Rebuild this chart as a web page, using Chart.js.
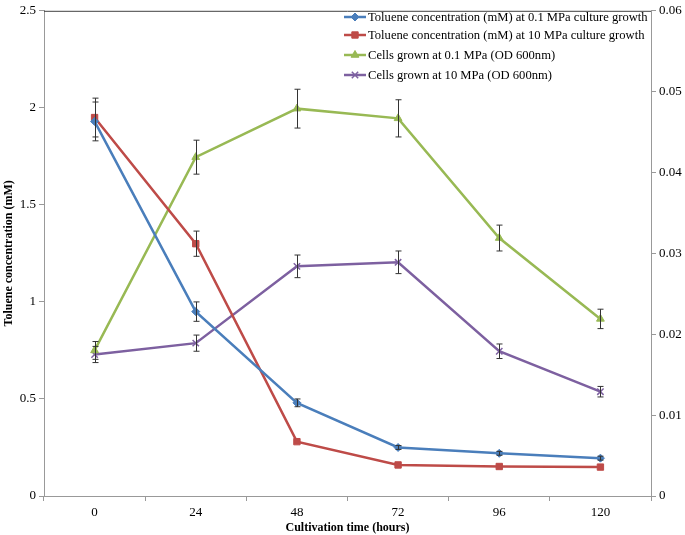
<html>
<head>
  <script src="https://cdn.jsdelivr.net/npm/chart.js@4.4.0/dist/chart.umd.min.js"></script>
</head>

<body style="padding: 0; margin: 0; background: #fff;">

<div style="width: 685px; height: 535px;">
  <canvas id="chart" width="685" height="535"></canvas>
</div>

<script>
  const hours = ['0', '24', '48', '72', '96', '120']

  const toluene01 = [1.93, 0.95, 0.48, 0.25, 0.22, 0.195]
  const toluene01Err = [0.1, 0.05, 0.02, 0.01, 0.01, 0.01]
  const toluene10 = [1.95, 1.30, 0.28, 0.16, 0.152, 0.149]
  const toluene10Err = [0.1, 0.065, 0, 0, 0, 0]
  const cells01 = [0.018, 0.0419, 0.0479, 0.0467, 0.0319, 0.0219]
  const cells01Err = [0.0011, 0.0021, 0.0024, 0.0023, 0.0016, 0.0012]
  const cells10 = [0.0175, 0.0189, 0.0284, 0.0289, 0.0179, 0.0129]
  const cells10Err = [0.001, 0.001, 0.0014, 0.0014, 0.0009, 0.00065]

  const font = 'Liberation Serif'

  const series = [
    {label: 'Toluene concentration (mM) at 0.1 MPa culture growth', data: toluene01, err: toluene01Err, axis: 'y',  color: '#4A7EBB', marker: 'rectRot',  radius: 4},
    {label: 'Toluene concentration (mM) at 10 MPa culture growth',  data: toluene10, err: toluene10Err, axis: 'y',  color: '#BE4B48', marker: 'rect',     radius: 4.5},
    {label: 'Cells grown at 0.1 MPa (OD 600nm)',                    data: cells01,   err: cells01Err,   axis: 'y2', color: '#98B954', marker: 'triangle', radius: 4.5},
    {label: 'Cells grown at 10 MPa (OD 600nm)',                     data: cells10,   err: cells10Err,   axis: 'y2', color: '#7D60A0', marker: 'crossRot', radius: 4.5},
  ]

  // error bars, top border line and the in-plot legend
  const extras = {
    id: 'extras',
    afterDatasetsDraw(chart) {
      const ctx = chart.ctx
      const x = chart.scales.x
      ctx.save()
      ctx.strokeStyle = '#333'
      ctx.lineWidth = 1
      series.forEach(s => {
        const y = chart.scales[s.axis]
        s.data.forEach((v, i) => {
          if (!s.err[i]) return
          const px = Math.round(x.getPixelForValue(i)) + 0.5
          const top = y.getPixelForValue(v + s.err[i])
          const bot = y.getPixelForValue(v - s.err[i])
          ctx.beginPath()
          ctx.moveTo(px, top); ctx.lineTo(px, bot)
          ctx.moveTo(px - 3, top); ctx.lineTo(px + 3, top)
          ctx.moveTo(px - 3, bot); ctx.lineTo(px + 3, bot)
          ctx.stroke()
        })
      })
      ctx.restore()
    },
    afterDraw(chart) {
      const ctx = chart.ctx
      const area = chart.chartArea
      ctx.save()
      ctx.strokeStyle = '#404040'
      ctx.lineWidth = 1
      ctx.beginPath()
      ctx.moveTo(area.left, area.top + 0.5)
      ctx.lineTo(area.right, area.top + 0.5)
      ctx.stroke()

      ctx.font = '12.6px "' + font + '"'
      ctx.textBaseline = 'middle'
      const rows = [17, 35, 55, 75]
      series.forEach((s, i) => {
        const ly = rows[i]
        ctx.strokeStyle = s.color
        ctx.fillStyle = s.color
        ctx.lineWidth = 2.5
        ctx.beginPath()
        ctx.moveTo(344, ly); ctx.lineTo(366, ly)
        ctx.stroke()
        ctx.lineWidth = s.marker === 'crossRot' ? 1.5 : 1
        Chart.helpers.drawPoint(ctx, {pointStyle: s.marker, radius: s.radius, borderWidth: ctx.lineWidth, rotation: 0}, 355, ly)
        ctx.fillStyle = '#000'
        ctx.fillText(s.label, 368, ly + 1)
      })
      ctx.restore()
    },
  }

  const plainNumber = v => String(+v.toFixed(3))

  new Chart(document.getElementById('chart').getContext('2d'), {
    type: 'line',
    data: {
      labels: hours,
      datasets: series.map(s => {return {
        label: s.label,
        data: s.data,
        yAxisID: s.axis,
        borderColor: s.color,
        backgroundColor: s.color,
        borderWidth: 2.5,
        pointStyle: s.marker,
        pointRadius: s.radius,
        pointBorderWidth: s.marker === 'crossRot' ? 1.5 : 1,
        tension: 0,
        fill: false,
      }})
    },
    options: {
      responsive: false,
      animation: false,
      layout: {padding: {top: 4, left: 0, right: 0, bottom: 0}},
      plugins: {legend: {display: false}, tooltip: {enabled: false}},
      scales: {
        x: {
          offset: true,
          grid: {offset: true, drawOnChartArea: false, color: '#999', tickLength: 5},
          border: {color: '#999'},
          ticks: {color: '#000', font: {family: font, size: 13}, padding: 4},
          title: {display: true, text: 'Cultivation time (hours)', color: '#000', font: {family: font, size: 12, weight: 'bold'}, padding: {top: 0, bottom: 0}},
          afterFit: scale => { scale.height = 39 },
        },
        y: {
          position: 'left',
          min: 0, max: 2.5,
          ticks: {stepSize: 0.5, color: '#000', font: {family: font, size: 13}, padding: 3, callback: plainNumber},
          grid: {drawOnChartArea: false, color: '#999', tickLength: 5},
          border: {color: '#999'},
          title: {display: true, text: 'Toluene concentration (mM)', color: '#000', font: {family: font, size: 12, weight: 'bold'}, padding: {top: 2, bottom: 0}},
          afterFit: scale => { scale.width = 44 },
        },
        y2: {
          position: 'right',
          min: 0, max: 0.06,
          ticks: {stepSize: 0.01, color: '#000', font: {family: font, size: 13}, padding: 3, callback: plainNumber},
          grid: {drawOnChartArea: false, color: '#999', tickLength: 5},
          border: {color: '#999'},
          afterFit: scale => { scale.width = 34 },
        },
      }
    },
    plugins: [extras],
  })
</script>
</body>
</html>
